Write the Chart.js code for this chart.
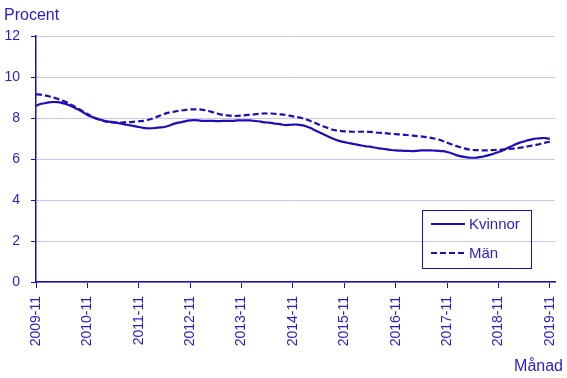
<!DOCTYPE html>
<html>
<head>
<meta charset="utf-8">
<script src="https://cdn.jsdelivr.net/npm/chart.js@4.4.1/dist/chart.umd.min.js"></script>
<style>
  html, body { margin: 0; padding: 0; background: #fff; }
  .wrap { position: relative; width: 567px; height: 378px; }
</style>
</head>
<body>
<div class="wrap"><canvas id="chart" width="567" height="378"></canvas></div>
<script>
// monthly values, 2009-11 .. 2019-11 (121 months)
const kvinnor = [
  8.60, 8.68, 8.72, 8.76, 8.78, 8.77, 8.74, 8.68, 8.60, 8.50, 8.40, 8.28,
  8.15, 8.06, 7.98, 7.92, 7.86, 7.82, 7.80, 7.76, 7.72, 7.68, 7.64, 7.60,
  7.56, 7.52, 7.50, 7.50, 7.52, 7.54, 7.56, 7.62, 7.70, 7.76, 7.80, 7.85,
  7.88, 7.90, 7.88, 7.86, 7.86, 7.86, 7.85, 7.85, 7.86, 7.86, 7.86, 7.88,
  7.88, 7.88, 7.88, 7.86, 7.84, 7.80, 7.78, 7.76, 7.72, 7.70, 7.66, 7.66,
  7.68, 7.68, 7.65, 7.60, 7.52, 7.42, 7.32, 7.22, 7.12, 7.02, 6.94, 6.87,
  6.82, 6.78, 6.74, 6.70, 6.66, 6.62, 6.60, 6.56, 6.52, 6.50, 6.47, 6.44,
  6.42, 6.41, 6.40, 6.40, 6.38, 6.40, 6.42, 6.42, 6.42, 6.41, 6.40, 6.38,
  6.34, 6.28, 6.20, 6.14, 6.10, 6.07, 6.06, 6.07, 6.10, 6.15, 6.20, 6.27,
  6.34, 6.42, 6.52, 6.62, 6.72, 6.80, 6.86, 6.92, 6.97, 7.00, 7.02, 7.02, 6.98
];
const man = [
  9.15, 9.14, 9.10, 9.06, 9.00, 8.94, 8.86, 8.78, 8.68, 8.56, 8.44, 8.32,
  8.20, 8.08, 7.98, 7.90, 7.84, 7.80, 7.78, 7.78, 7.78, 7.80, 7.80, 7.82,
  7.84, 7.86, 7.90, 7.96, 8.04, 8.12, 8.20, 8.26, 8.30, 8.34, 8.37, 8.40,
  8.42, 8.42, 8.42, 8.40, 8.36, 8.30, 8.24, 8.18, 8.14, 8.12, 8.10, 8.10,
  8.12, 8.14, 8.16, 8.18, 8.20, 8.22, 8.22, 8.22, 8.20, 8.18, 8.16, 8.12,
  8.08, 8.04, 8.00, 7.94, 7.86, 7.78, 7.68, 7.60, 7.52, 7.44, 7.40, 7.37,
  7.35, 7.34, 7.33, 7.33, 7.33, 7.33, 7.32, 7.30, 7.28, 7.27, 7.25, 7.23,
  7.21, 7.20, 7.18, 7.16, 7.14, 7.12, 7.10, 7.07, 7.04, 7.00, 6.95, 6.88,
  6.80, 6.72, 6.64, 6.58, 6.52, 6.47, 6.44, 6.43, 6.42, 6.42, 6.43, 6.44,
  6.44, 6.46, 6.48, 6.50, 6.52, 6.55, 6.58, 6.62, 6.66, 6.70, 6.75, 6.80, 6.84
];
const tickLabels = ['2009-11', '2010-11', '2011-11', '2012-11', '2013-11', '2014-11',
  '2015-11', '2016-11', '2017-11', '2018-11', '2019-11'];
const yTicks = [0, 2, 4, 6, 8, 10, 12];

const LINE = '#1d0eb8';
const TEXT = '#2a1bcc';
const GRID = '#c6c6f2';
const FONT = "'Liberation Sans', Arial, sans-serif";

const toPoints = arr => arr.map((v, i) => ({ x: i, y: v }));

// legend box + axis titles
const extras = {
  id: 'extras',
  afterDraw(chart) {
    const ctx = chart.ctx;
    ctx.save();
    ctx.fillStyle = TEXT;
    ctx.font = '16px ' + FONT;
    ctx.textBaseline = 'alphabetic';
    ctx.textAlign = 'left';
    ctx.fillText('Procent', 4, 20);
    ctx.textAlign = 'right';
    ctx.fillText('Månad', 563, 371);

    // legend
    const bx = 422.5, by = 210.5, bw = 109, bh = 58;
    ctx.strokeStyle = LINE;
    ctx.lineWidth = 1;
    ctx.strokeRect(bx, by, bw, bh);
    ctx.font = '15px ' + FONT;
    ctx.textAlign = 'left';
    ctx.textBaseline = 'middle';
    chart.data.datasets.forEach((ds, i) => {
      const y = 224 + i * 29;
      ctx.beginPath();
      ctx.lineWidth = 2;
      ctx.setLineDash(ds.borderDash || []);
      ctx.moveTo(431, y);
      ctx.lineTo(465, y);
      ctx.stroke();
      ctx.setLineDash([]);
      ctx.fillText(ds.label, 469, y + 1);
    });
    ctx.restore();
  }
};

new Chart(document.getElementById('chart'), {
  type: 'line',
  data: {
    datasets: [
      {
        label: 'Kvinnor',
        data: toPoints(kvinnor),
        borderColor: LINE,
        borderWidth: 2.2,
        pointRadius: 0,
        tension: 0.3,
        fill: false
      },
      {
        label: 'Män',
        data: toPoints(man),
        borderColor: LINE,
        borderWidth: 2.2,
        borderDash: [6, 3],
        pointRadius: 0,
        tension: 0.3,
        fill: false
      }
    ]
  },
  options: {
    responsive: false,
    animation: false,
    layout: { padding: { top: 36, right: 12, left: 0, bottom: 0 } },
    plugins: {
      legend: { display: false },
      tooltip: { enabled: false }
    },
    scales: {
      x: {
        type: 'linear',
        min: 0,
        max: 121.2,
        afterBuildTicks: scale => {
          scale.ticks = tickLabels.map((_, i) => ({ value: i * 12 }));
        },
        afterFit: scale => {
          scale.height = 96;
          scale.paddingLeft = 0;
          scale.paddingRight = 0;
        },
        grid: {
          drawOnChartArea: false,
          drawTicks: true,
          tickLength: 6,
          color: LINE,
          tickColor: LINE
        },
        border: { color: LINE, width: 1.5 },
        ticks: {
          autoSkip: false,
          minRotation: 90,
          maxRotation: 90,
          padding: 8,
          color: TEXT,
          font: { family: FONT, size: 14 },
          callback: v => tickLabels[v / 12]
        }
      },
      y: {
        min: 0,
        max: 12,
        afterBuildTicks: scale => {
          scale.ticks = yTicks.map(v => ({ value: v }));
        },
        afterFit: scale => {
          scale.width = 36;
          scale.paddingTop = 0;
          scale.paddingBottom = 0;
        },
        grid: {
          color: GRID,
          tickColor: LINE,
          tickLength: 5,
          lineWidth: 1
        },
        border: { color: LINE, width: 1.5 },
        ticks: {
          padding: 11,
          color: TEXT,
          font: { family: FONT, size: 14 }
        }
      }
    }
  },
  plugins: [extras]
});
</script>
</body>
</html>
